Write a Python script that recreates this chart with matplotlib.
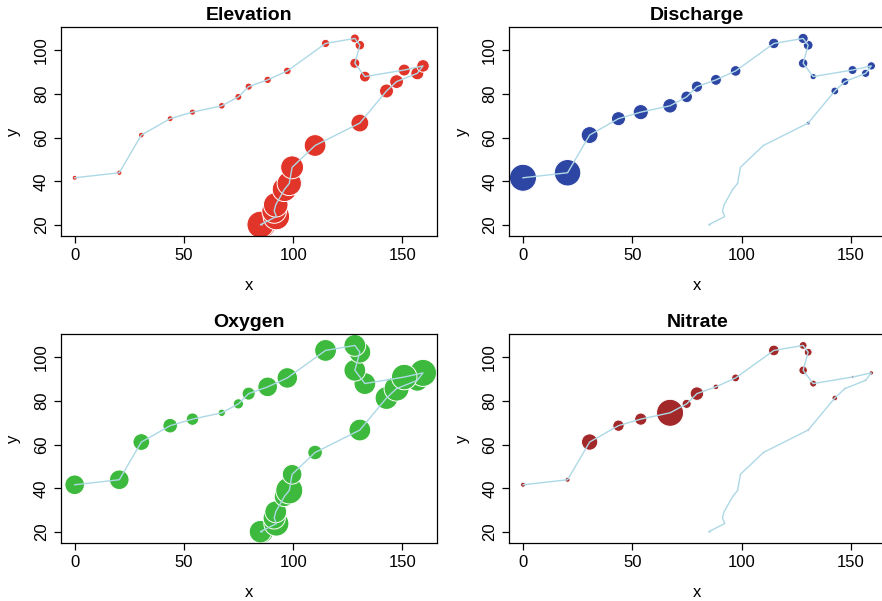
import numpy as np
import matplotlib
matplotlib.use("Agg")
import matplotlib.pyplot as plt

plt.rcParams.update({
    "font.family": ["Liberation Sans", "DejaVu Sans"],
    "font.size": 12,
    "axes.linewidth": 0.9,
})

# Doubs river sampling sites, upstream (1) to downstream (30), km
site_x = [85.7, 85.0, 92.3, 91.3, 92.0, 96.0, 98.2, 99.5, 110.0, 130.5,
          142.7, 147.3, 156.8, 159.4, 150.8, 132.8, 128.2, 130.5, 128.2, 114.8,
          97.3, 88.3, 79.6, 74.9, 67.3, 53.9, 43.7, 30.5, 20.4, 0.0]
site_y = [20.0, 20.1, 23.8, 26.4, 29.2, 36.3, 39.0, 46.4, 56.4, 66.7,
          81.4, 85.7, 89.5, 92.9, 91.0, 88.0, 94.1, 102.4, 105.5, 103.2,
          90.6, 86.5, 83.4, 78.7, 74.6, 71.7, 68.7, 61.2, 43.9, 41.6]

elevation = [934, 932, 914, 854, 849, 846, 841, 792, 752, 617,
             483, 477, 450, 434, 415, 375, 348, 332, 310, 286,
             262, 254, 246, 241, 231, 214, 206, 195, 183, 172]
discharge = [0.84, 1.00, 1.80, 2.53, 2.64, 2.86, 4.00, 1.30, 4.80, 10.00,
             19.90, 20.00, 21.10, 21.20, 23.00, 16.10, 24.30, 25.00, 25.90, 26.80,
             27.20, 27.90, 28.80, 29.76, 37.00, 38.70, 36.00, 43.20, 67.70, 69.00]
oxygen = [10.5, 10.3, 11.5, 10.2, 10.0, 9.4, 12.4, 9.0, 6.7, 10.0,
          10.5, 11.5, 10.0, 12.4, 11.7, 10.0, 10.0, 10.0, 10.0, 10.0,
          9.4, 9.0, 6.0, 4.7, 3.4, 5.7, 6.7, 7.7, 9.0, 9.0]
nitrate = [0.20, 0.20, 0.22, 0.21, 0.30, 0.25, 0.30, 0.30, 0.50, 0.50,
           1.30, 0.45, 0.50, 1.00, 0.65, 1.60, 1.95, 1.80, 1.80, 2.45,
           1.80, 1.30, 3.10, 2.10, 6.20, 2.80, 2.60, 3.75, 1.15, 1.15]

panels = [
    ("Elevation", elevation, "#E1352A"),
    ("Discharge", discharge, "#2E46A3"),
    ("Oxygen", oxygen, "#3DBA3D"),
    ("Nitrate", nitrate, "#A3282A"),
]

W, H = 882, 601
DPI = 100
fig = plt.figure(figsize=(W / DPI, H / DPI), dpi=DPI, facecolor="white")

# axes boxes in pixels: left, top, width, height
boxes = [(60.7, 27.3), (509.0, 27.3), (60.7, 334.3), (509.0, 334.3)]
bw, bh = 376.3, 208.7
MAX_D = 27.0  # diameter (px) of the largest bubble

for (title, values, color), (left, top) in zip(panels, boxes):
    ax = fig.add_axes([left / W, 1 - (top + bh) / H, bw / W, bh / H])
    v = np.asarray(values, dtype=float)
    d_pt = MAX_D * v / v.max() * 72 / DPI
    ax.scatter(site_x, site_y, s=d_pt ** 2, c=color, edgecolors="white",
               linewidths=0.7, zorder=2)
    ax.plot(site_x, site_y, color="#ADD8E6", lw=1.0, zorder=3)

    ax.set_xlim(-6.4, 165.8)
    ax.set_ylim(14.9, 110.6)
    ax.set_xticks([0, 50, 100, 150])
    ax.set_yticks([20, 40, 60, 80, 100])
    ax.tick_params(direction="out", length=5, width=0.9, labelsize=12, pad=3.5)
    for lbl in ax.get_yticklabels():
        lbl.set_rotation(90)
        lbl.set_va("center")
    ax.set_xlabel("x", fontsize=12, labelpad=11)
    ax.set_ylabel("y", fontsize=12, labelpad=9)
    ax.set_title(title, fontsize=14, fontweight="bold", pad=5)

fig.savefig("out.png", dpi=DPI, facecolor="white")
